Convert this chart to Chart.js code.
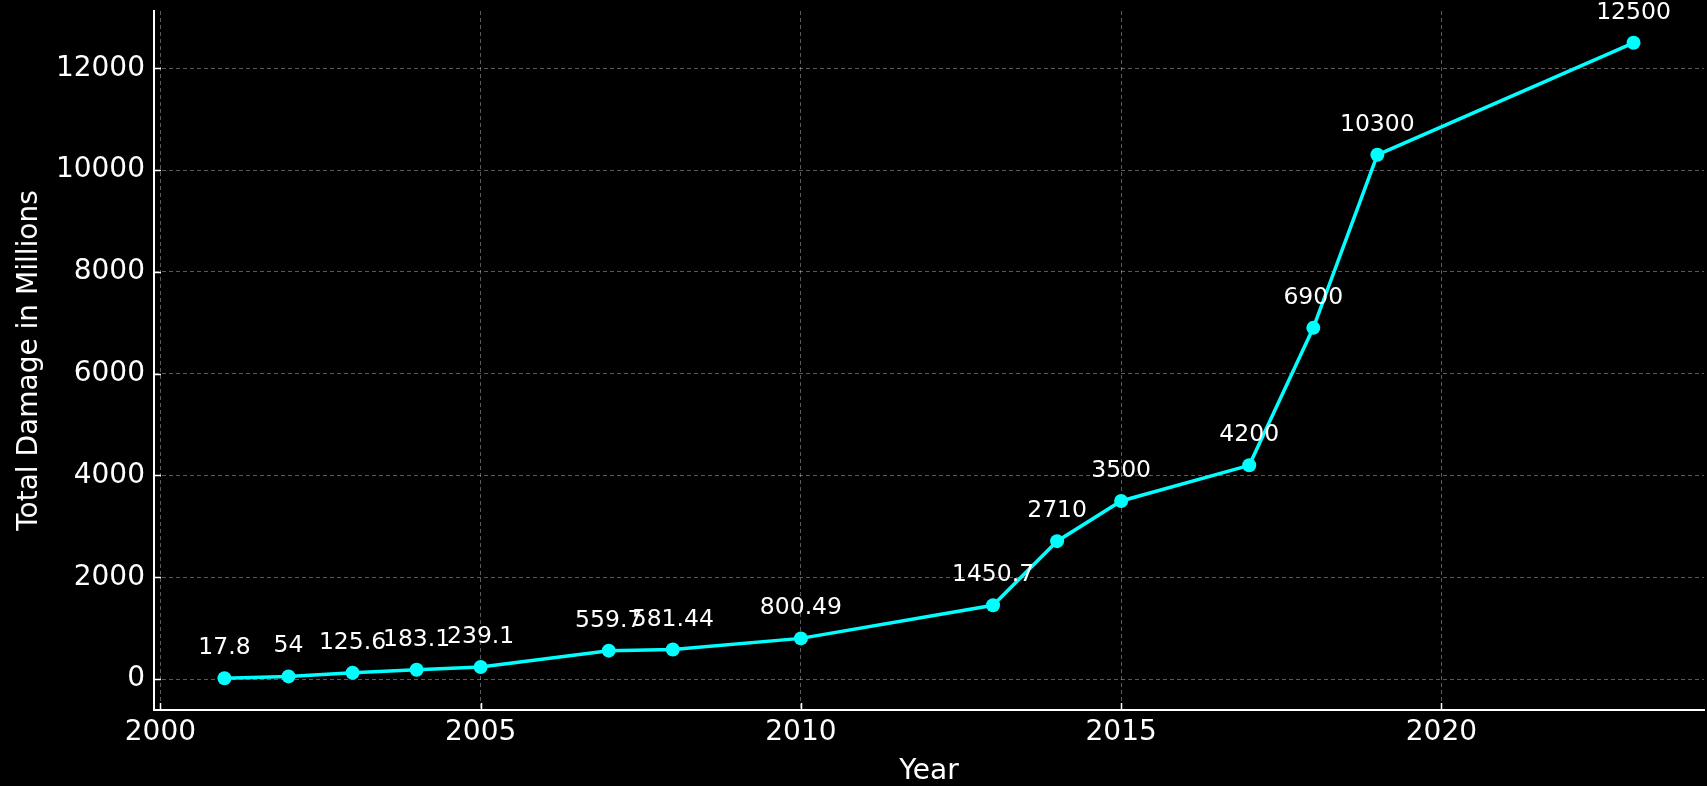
<!DOCTYPE html>
<html>
<head>
<meta charset="utf-8">
<script src="https://cdn.jsdelivr.net/npm/chart.js@4.4.1/dist/chart.umd.min.js"></script>
<style>
    html, body { margin: 0; padding: 0; background: #000; overflow: hidden; }
    #wrap { width: 1707px; height: 786px; }
    canvas { background: #000; }
</style>
</head>
<body>
<div id="wrap"><canvas id="canvas1" width="1707" height="786"></canvas></div>
<script>
// values
const years = [2001, 2002, 2003, 2004, 2005, 2007, 2008, 2010, 2013, 2014, 2015, 2017, 2018, 2019, 2023];
const damage = [17.8, 54, 125.6, 183.1, 239.1, 559.7, 581.44, 800.49, 1450.7, 2710, 3500, 4200, 6900, 10300, 12500];
const xTicks = [2000, 2005, 2010, 2015, 2020];
const yTicks = [0, 2000, 4000, 6000, 8000, 10000, 12000];

const FONT = 'DejaVu Sans';
const CYAN = '#00ffff';

// matplotlib-like 5% margins
function padRange(arr) {
    let lo = Math.min(...arr), hi = Math.max(...arr);
    let m = (hi - lo) * 0.05;
    return [lo - m, hi + m];
}
const xr = padRange(years);
const yr = padRange(damage);

// inward tick marks like the original
const innerTicks = {
    id: 'innerTicks',
    afterDraw(chart) {
        const ctx = chart.ctx;
        const a = chart.chartArea;
        const sx = chart.scales.x, sy = chart.scales.y;
        ctx.save();
        ctx.strokeStyle = '#fff';
        ctx.lineWidth = 1.5;
        ctx.beginPath();
        xTicks.forEach(function (v) {
            let p = Math.round(sx.getPixelForValue(v)) + 0.5;
            ctx.moveTo(p, a.bottom);
            ctx.lineTo(p, a.bottom - 7);
        });
        yTicks.forEach(function (v) {
            let p = Math.round(sy.getPixelForValue(v)) + 0.5;
            ctx.moveTo(a.left, p);
            ctx.lineTo(a.left + 7, p);
        });
        ctx.stroke();
        ctx.restore();
    }
};

// value labels above each point
const pointLabels = {
    id: 'pointLabels',
    afterDatasetsDraw(chart) {
        const ctx = chart.ctx;
        const meta = chart.getDatasetMeta(0);
        ctx.save();
        ctx.font = '23.5px "' + FONT + '"';
        ctx.fillStyle = '#fff';
        ctx.textAlign = 'center';
        ctx.textBaseline = 'alphabetic';
        meta.data.forEach(function (pt, i) {
            ctx.fillText(String(damage[i]), pt.x, pt.y - 24);
        });
        ctx.restore();
    }
};

const data = {
    datasets: [
        {
            label: 'Total Damage',
            data: years.map((y, i) => ({ x: y, y: damage[i] })),
            borderColor: CYAN,
            backgroundColor: CYAN,
            borderWidth: 3.5,
            pointRadius: 7,
            pointHoverRadius: 7,
            pointBorderWidth: 0,
            pointBackgroundColor: CYAN,
            tension: 0,
            clip: false
        }
    ]
};

const config = {
    type: 'line',
    data: data,
    options: {
        responsive: false,
        animation: false,
        devicePixelRatio: 1,
        layout: { autoPadding: false, padding: { top: 11, right: 3, left: 0, bottom: 0 } },
        plugins: {
            legend: { display: false },
            tooltip: { enabled: false }
        },
        scales: {
            x: {
                type: 'linear',
                min: xr[0],
                max: xr[1],
                afterBuildTicks: s => { s.ticks = xTicks.map(v => ({ value: v })); },
                afterFit: s => { s.height = 76; s.paddingLeft = 0; s.paddingRight = 0; },
                ticks: {
                    color: '#fff',
                    font: { family: FONT, size: 28 },
                    padding: 6,
                    maxRotation: 0,
                    autoSkip: false,
                    callback: v => String(v)
                },
                grid: { color: 'rgba(255,255,255,0.35)', lineWidth: 1, drawTicks: false },
                border: { display: true, color: '#fff', width: 2, dash: [4, 3] },
                title: {
                    display: true,
                    text: 'Year',
                    color: '#fff',
                    font: { family: FONT, size: 28, lineHeight: 1 },
                    padding: { top: 0, bottom: 0 }
                }
            },
            y: {
                type: 'linear',
                min: yr[0],
                max: yr[1],
                afterBuildTicks: s => { s.ticks = yTicks.map(v => ({ value: v })); },
                afterFit: s => { s.width = 154; s.paddingTop = 0; s.paddingBottom = 0; },
                ticks: {
                    color: '#fff',
                    font: { family: FONT, size: 28 },
                    padding: 9,
                    callback: v => String(v)
                },
                grid: { color: 'rgba(255,255,255,0.35)', lineWidth: 1, drawTicks: false },
                border: { display: true, color: '#fff', width: 2, dash: [4, 3] },
                title: {
                    display: true,
                    text: 'Total Damage in Millions',
                    color: '#fff',
                    font: { family: FONT, size: 28 },
                    padding: { top: 13, bottom: 0 }
                }
            }
        }
    },
    plugins: [innerTicks, pointLabels]
};

var canvas = document.getElementById('canvas1');
const chart = new Chart(canvas, config);
</script>
</body>
</html>
